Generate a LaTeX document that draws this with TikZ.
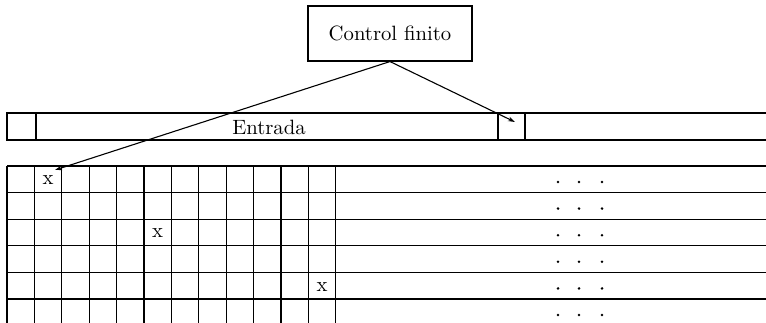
\documentclass[tikz,border=0pt]{standalone}
\usetikzlibrary{arrows.meta}
\newcommand{\bigtxt}[1]{\scalebox{2.07}{#1}}
\begin{document}
\begin{tikzpicture}[x=1pt,y=-1pt,
  line width=1.1pt,
  ctrl/.style={draw,rectangle,minimum width=164pt,minimum height=55pt,inner sep=0pt},
  xmark/.style={inner sep=0pt,anchor=center},
  arr/.style={-{Stealth[length=7pt,width=4.5pt]},line width=1.1pt},
  dotnode/.style={circle,fill=black,inner sep=0pt,minimum size=2.8pt}]
\useasboundingbox (0,0) rectangle (766,323);
% control
\node[ctrl] (ctrl) at (390,33.5) {\bigtxt{Control finito}};
% input tape
\draw (766,113) -- (7,113) -- (7,140) -- (766,140);
\draw (36,113) -- (36,140);
\draw (498,113) -- (498,140);
\draw (525,113) -- (525,140);
\node[inner sep=0pt] (entrada) at (269,127) {\bigtxt{Entrada}};
\coordinate (head) at (515,122);
% grid
\foreach \r in {0,...,5} {
  \draw (7,166+26.6*\r) -- (766,166+26.6*\r);
}
\foreach \c in {0,...,12} {
  \draw (7+27.4*\c,166) -- (7+27.4*\c,323);
}
% marks
\node[xmark] (x1) at (7+27.4*1.5,166+26.6*0.5+1) {\bigtxt{x}};
\node[xmark] (x2) at (7+27.4*5.5,166+26.6*2.5+1) {\bigtxt{x}};
\node[xmark] (x3) at (7+27.4*11.5,166+26.6*4.5+1) {\bigtxt{x}};
\coordinate (cell) at (55,170);
% dots
\foreach \r in {0,...,5} {
  \node[dotnode] (da\r) at (558,182+26.6*\r) {};
  \node[dotnode] (db\r) at (579,182+26.6*\r) {};
  \node[dotnode] (dc\r) at (602,182+26.6*\r) {};
}
% arrows
\draw[arr] (ctrl.south) -- (cell);
\draw[arr] (ctrl.south) -- (head);
\end{tikzpicture}
\end{document}
